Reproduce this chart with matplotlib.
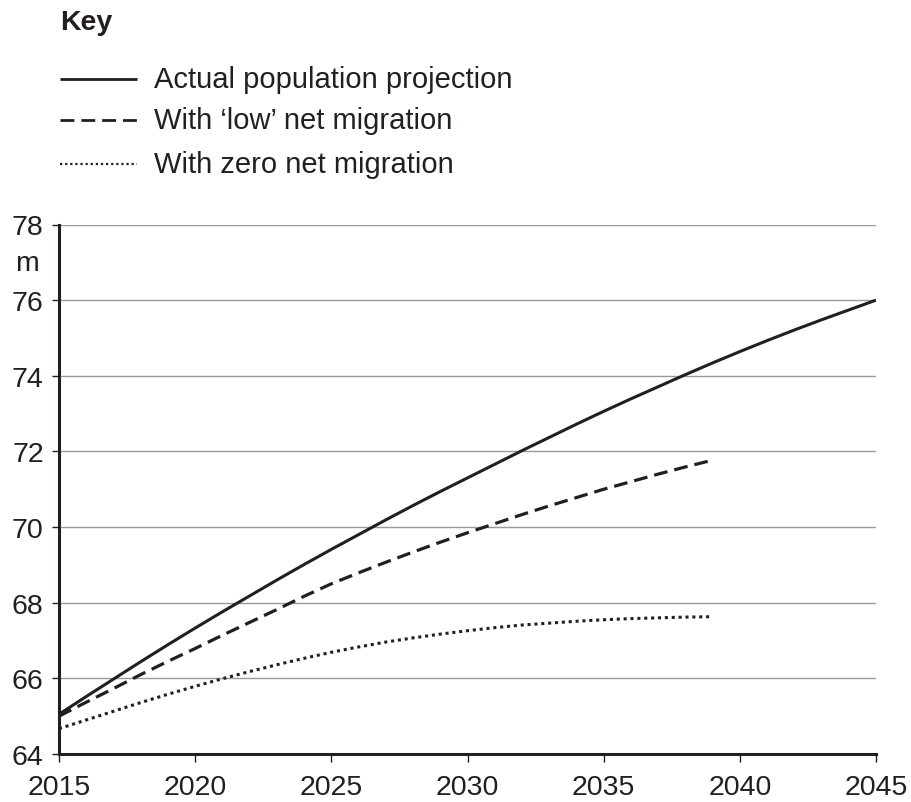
import matplotlib
matplotlib.use("Agg")
import matplotlib.pyplot as plt
from matplotlib.lines import Line2D

plt.rcParams['font.family'] = ['Liberation Sans', 'DejaVu Sans']

INK = '#231f20'

years_actual = list(range(2015, 2046))
actual = [65.05, 65.52, 65.98, 66.44, 66.89, 67.33, 67.76, 68.18, 68.60, 69.01,
          69.41, 69.80, 70.19, 70.57, 70.94, 71.30, 71.66, 72.02, 72.37, 72.72,
          73.06, 73.39, 73.71, 74.03, 74.34, 74.64, 74.93, 75.21, 75.48, 75.74,
          76.00]

years_short = list(range(2015, 2040))
low_migration = [65.00, 65.37, 65.73, 66.10, 66.45, 66.79, 67.14, 67.48, 67.82, 68.17,
                 68.50, 68.79, 69.07, 69.34, 69.60, 69.85, 70.09, 70.33, 70.56, 70.78,
                 71.00, 71.20, 71.40, 71.59, 71.77]
zero_migration = [64.67, 64.90, 65.13, 65.36, 65.58, 65.79, 65.99, 66.18, 66.36, 66.53,
                  66.69, 66.83, 66.96, 67.07, 67.17, 67.26, 67.34, 67.41, 67.46, 67.51,
                  67.55, 67.58, 67.60, 67.62, 67.63]

series_labels = ['Actual population projection', 'With \u2018low\u2019 net migration',
                 'With zero net migration']
x_ticks = [2015, 2020, 2025, 2030, 2035, 2040, 2045]
y_ticks = [64, 66, 68, 70, 72, 74, 76, 78]

W, H = 912, 803
fig = plt.figure(figsize=(W / 100, H / 100), dpi=100)
ax = fig.add_axes([59 / W, 1 - 755 / H, (876 - 59) / W, (755 - 225.5) / H])

solid_style = dict(color=INK, lw=2.2, linestyle='-', solid_capstyle='butt')
dash_style = dict(color=INK, lw=2.3, linestyle=(0, (4.3, 2.2)), dash_capstyle='butt')
dot_style = dict(color=INK, lw=2.2, linestyle=(0, (1.0, 1.25)), dash_capstyle='butt')

ax.plot(years_actual, actual, **solid_style)
ax.plot(years_short, low_migration, **dash_style)
ax.plot(years_short, zero_migration, **dot_style)

ax.set_xlim(2015, 2045)
ax.set_ylim(64, 78)
ax.set_xticks(x_ticks)
ax.set_yticks(y_ticks)
ax.yaxis.grid(True, color='#9a9a9a', lw=1.0)
ax.set_axisbelow(True)
for s in ['top', 'right']:
    ax.spines[s].set_visible(False)
for s in ['left', 'bottom']:
    ax.spines[s].set_color(INK)
    ax.spines[s].set_linewidth(2.2)
ax.tick_params(axis='y', direction='out', length=5, width=1.0, color=INK,
               labelsize=20.5, labelcolor=INK, pad=6)
ax.tick_params(axis='x', direction='out', length=5.5, width=1.0, color=INK,
               labelsize=20.5, labelcolor=INK, pad=9)

fig.text(27 / W, 1 - 264 / H, 'm', fontsize=20.5, color=INK, ha='center', va='center')

# Key
fig.text(60 / W, 1 - 23 / H, 'Key', fontsize=20.5, fontweight='bold', color=INK,
         ha='left', va='center')
rows_y = [80, 121, 165]
legend_styles = [dict(solid_style, lw=2.0), dict(dash_style, lw=2.0, linestyle=(0, (5.0, 2.5))),
                 dict(dot_style, lw=1.6, linestyle=(0, (1.0, 1.3)))]
for yy, st, lab in zip(rows_y, legend_styles, series_labels):
    fig.add_artist(Line2D([60 / W, 137 / W], [1 - yy / H, 1 - yy / H],
                          transform=fig.transFigure, **st))
    fig.text(154 / W, 1 - yy / H, lab, fontsize=21, color=INK, ha='left', va='center')

fig.savefig('out.png', dpi=100)
